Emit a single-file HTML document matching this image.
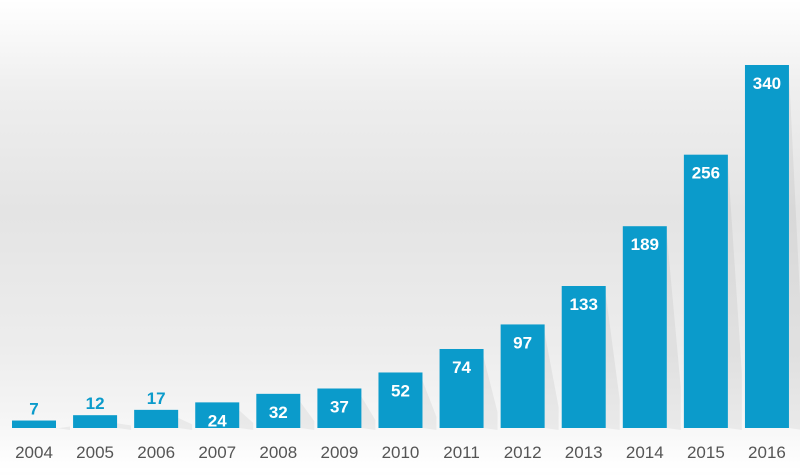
<!DOCTYPE html>
<html><head><meta charset="utf-8"><style>
html,body{margin:0;padding:0}
body{width:800px;height:470px;overflow:hidden;background:linear-gradient(#ffffff 0%,#eeeeee 20%,#e4e4e4 45%,#ededed 75%,#f6f6f6 90%,#ffffff 100%);font-family:"Liberation Sans",sans-serif}
</style></head><body>
<svg width="800" height="470" xmlns="http://www.w3.org/2000/svg" id="chart"></svg>
<script>
const categories=["2004","2005","2006","2007","2008","2009","2010","2011","2012","2013","2014","2015","2016"];
const values=[7,12,17,24,32,37,52,74,97,133,189,256,340];
const svg=document.getElementById('chart');
const NS='http://www.w3.org/2000/svg';
const baseY=428, scale=363/340, x0=12, pitch=61.08, bw=44;
function xPos(i){return x0+i*pitch;}
function yPos(v){return baseY-v*scale;}
categories.forEach((c,i)=>{
  const v=values[i];
  const x=xPos(i), y=yPos(v);
  const sh=document.createElementNS(NS,'polygon');
  
  
  sh.setAttribute('points',`${x+bw},${baseY} ${x+bw},${y+8} ${x+bw+14},${baseY-(baseY-y)*0.2} ${x+bw+14},${baseY+2}`);
  sh.setAttribute('fill','rgba(0,0,0,0.05)');
  svg.appendChild(sh);
  const r=document.createElementNS(NS,'rect');
  
  
  r.setAttribute('x',x);r.setAttribute('y',y);
  r.setAttribute('width',bw);r.setAttribute('height',baseY-y);
  r.setAttribute('fill','#0b9bcb');
  svg.appendChild(r);
  const t=document.createElementNS(NS,'text');
  
  
  const inside=(baseY-y)>20;
  t.setAttribute('x',x+bw/2);
  t.setAttribute('y',inside?y+24:y-6);
  t.setAttribute('text-anchor','middle');
  t.setAttribute('font-size','17');
  t.setAttribute('font-weight','bold');
  t.setAttribute('fill',inside?'#ffffff':'#0b9bcb');
  t.textContent=v;
  svg.appendChild(t);
  const l=document.createElementNS(NS,'text');
  
  
  l.setAttribute('x',x+bw/2);l.setAttribute('y',458);
  l.setAttribute('text-anchor','middle');
  l.setAttribute('font-size','17');
  l.setAttribute('fill','#555555');
  l.textContent=c;
  svg.appendChild(l);
});
</script>
</body></html>
